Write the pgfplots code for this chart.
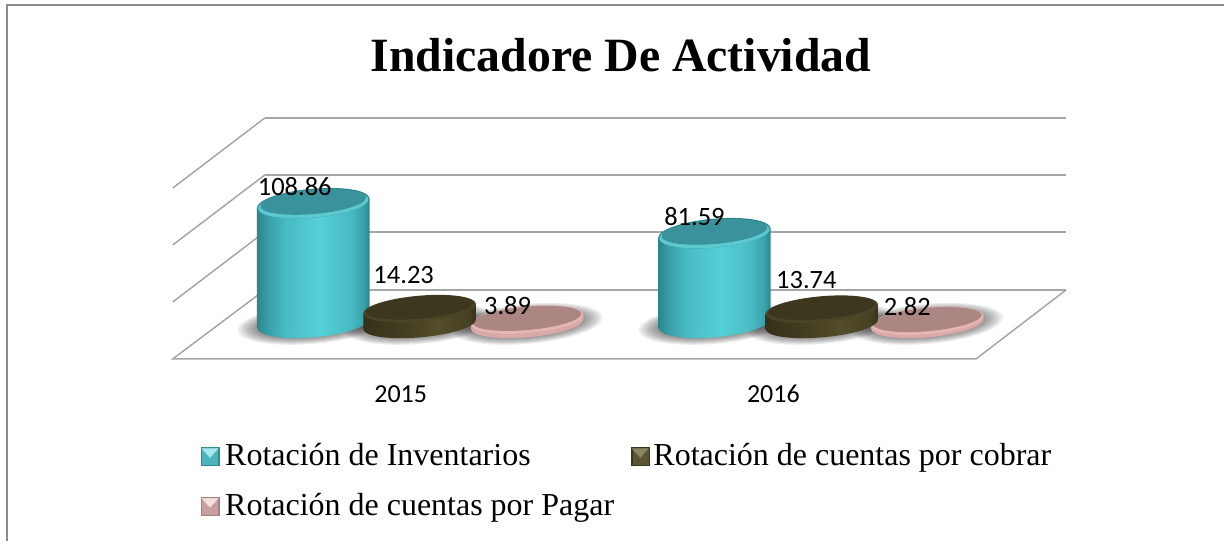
\documentclass[border=0pt]{standalone}
\usepackage{fontspec}
\setmainfont{Liberation Serif}
\newfontfamily\carlito{Carlito}
\usepackage{pgfplots}
\usepackage{pgfplotstable}
\pgfplotsset{compat=1.18}

\definecolor{gridc}{HTML}{A6A6A6}
\definecolor{framec}{HTML}{8C8C8C}
\definecolor{HTMLteal0}{HTML}{2B858D}
\definecolor{HTMLteal1}{HTML}{3AA3AC}
\definecolor{HTMLteal2}{HTML}{49BBC4}
\definecolor{HTMLteal3}{HTML}{55D0D8}
\definecolor{tealcap}{HTML}{3A929C}
\definecolor{tealrim}{HTML}{5CC9D1}
\definecolor{HTMLdark0}{HTML}{353019}
\definecolor{HTMLdark1}{HTML}{454022}
\definecolor{HTMLdark2}{HTML}{544D2A}
\definecolor{darkcap}{HTML}{3D3720}
\definecolor{darkrim}{HTML}{4A4526}
\definecolor{pinkrim}{HTML}{E6B6B6}
\definecolor{pinktopc}{HTML}{AC8682}
\definecolor{pinkmid}{HTML}{D9A8A8}
\definecolor{keytealM}{HTML}{4AB5BD}
\definecolor{keytealT}{HTML}{A8E8EC}
\definecolor{keytealE}{HTML}{2F8B93}
\definecolor{keydarkM}{HTML}{5A5534}
\definecolor{keydarkT}{HTML}{8A8660}
\definecolor{keydarkE}{HTML}{3A3620}
\definecolor{keypinkM}{HTML}{C99E9E}
\definecolor{keypinkT}{HTML}{F4E0E0}
\definecolor{keypinkE}{HTML}{A87F7F}

\pgfdeclarehorizontalshading{cylteal}{100bp}{color(0bp)=(HTMLteal0); color(25bp)=(HTMLteal0); color(31bp)=(HTMLteal1); color(38bp)=(HTMLteal2); color(53bp)=(HTMLteal3); color(66bp)=(HTMLteal2); color(72bp)=(HTMLteal1); color(75bp)=(HTMLteal0); color(100bp)=(HTMLteal0)}
\pgfdeclarehorizontalshading{cyldark}{100bp}{color(0bp)=(HTMLdark0); color(25bp)=(HTMLdark0); color(45bp)=(HTMLdark1); color(58bp)=(HTMLdark2); color(72bp)=(HTMLdark1); color(75bp)=(HTMLdark0); color(100bp)=(HTMLdark0)}
\pgfdeclarehorizontalshading{cylpink}{100bp}{color(0bp)=(pinkmid); color(100bp)=(pinkmid)}

% tilted ellipse, low level because pgfplots handles TikZ ellipse radii itself
\newcommand{\tiltpath}[3]{\pgfpathellipse{\pgfpoint{0pt}{#1}}{\pgfpointpolar{5}{#2}}{\pgfpointpolar{95}{#3}}}
\newcommand{\tiltfill}[4]{\begin{pgfscope}\pgfsetfillcolor{#1}\tiltpath{#2}{#3}{#4}\pgfusepath{fill}\end{pgfscope}}
\newlength{\cylh}
% whole cylinder, drawn down from the point at the value; \hgt is its height in pixels
\newcommand{\cylbody}[2]{%
  \pgfmathsetlength{\cylh}{\hgt}%
  \begin{pgfscope}\tiltpath{-\cylh}{56.5pt}{#2}\pgfshadepath{#1}{0}\pgfusepath{discard}\end{pgfscope}%
  \begin{pgfscope}%
    \pgfpathmoveto{\pgfpoint{-56.3pt}{\dimexpr-\cylh-4.6pt\relax}}%
    \pgfpathlineto{\pgfpoint{56.3pt}{\dimexpr-\cylh+4.6pt\relax}}%
    \pgfpathlineto{\pgfpoint{56.3pt}{4.6pt}}%
    \pgfpathlineto{\pgfpoint{-56.3pt}{-4.6pt}}%
    \pgfpathclose
    \pgfshadepath{#1}{0}\pgfusepath{discard}%
  \end{pgfscope}}

\pgfdeclareplotmark{shadowmark}{%
  \foreach \i in {0,1,...,7}{%
    \pgfmathsetlengthmacro{\sa}{76-2.9*\i}\pgfmathsetlengthmacro{\sb}{20-1*\i}%
    \begin{pgfscope}\pgfsetfillcolor{black}\pgfsetfillopacity{0.07}\tiltpath{-1pt}{\sa}{\sb}\pgfusepath{fill}\end{pgfscope}%
  }}
\pgfdeclareplotmark{tealcyl}{\cylbody{cylteal}{14.5pt}%
  \tiltfill{HTMLteal0}{0pt}{56.5pt}{14.5pt}%
  \tiltfill{tealrim}{-0.8pt}{55.5pt}{13.7pt}%
  \tiltfill{tealcap}{1.2pt}{53pt}{12pt}}
\pgfdeclareplotmark{darkcyl}{\pgftransformyshift{-1.5pt}\cylbody{cyldark}{13pt}%
  \tiltfill{darkrim}{0pt}{56.5pt}{13pt}%
  \tiltfill{darkcap}{1.2pt}{54pt}{11.2pt}}
\pgfdeclareplotmark{pinkcyl}{\pgftransformyshift{-1pt}\cylbody{cylpink}{13.5pt}%
  \tiltfill{pinkrim}{0pt}{56.5pt}{13.5pt}%
  \tiltfill{pinktopc}{1.2pt}{54.5pt}{11.7pt}}

\newcommand{\legkey}[3]{%
  \fill[#3] (0pt,-10pt) rectangle (18pt,8pt);
  \fill[#2] (1.5pt,-8.5pt) rectangle (16.5pt,6.5pt);
  \fill[#1] (1pt,7pt)--(17pt,7pt)--(9pt,-2pt)--cycle;}

\pgfplotstableread{
x v
313.5 108.86
715 81.59
}\tealdata
\pgfplotstableread{
x v
420 14.23
822.5 13.74
}\darkdata
\pgfplotstableread{
x v
527.5 3.89
928 2.82
}\pinkdata
\pgfplotstableread{
x v lab dx dy
313.5 108.86 108.86 -18.5 16.3
420 14.23 14.23 -16 32.3
527.5 3.89 3.89 -19.5 12.7
715 81.59 81.59 -20 16.2
822.5 13.74 13.74 -15.5 27.9
928 2.82 2.82 -20 12.9
}\labeldata

\pgfplotsset{cylplot/.style={forget plot,only marks,scatter,mark=#1,
  visualization depends on={1.1*\thisrow{v} \as \hgt}}}

\begin{document}
\begin{tikzpicture}
% walls, floor, frame and title, in picture pixels
\begin{axis}[
  at={(0pt,0pt)},anchor=south west,
  scale only axis,width=1225pt,height=541pt,
  xmin=0,xmax=1225,ymin=0,ymax=541,y dir=reverse,
  hide axis,clip=false]
\addplot[framec,line width=2pt] coordinates {(7,541) (7,5) (1225,5)};
\addplot[gridc,line width=1.5pt] coordinates {(265,290) (1067,290)};
\addplot[gridc,line width=1.5pt] coordinates {(265,232) (1067,232)};
\addplot[gridc,line width=1.5pt] coordinates {(265,175) (1067,175)};
\addplot[gridc,line width=1.5pt] coordinates {(265,118) (1067,118)};
\addplot[gridc,line width=1.5pt] coordinates {(173,302) (265,232)};
\addplot[gridc,line width=1.5pt] coordinates {(173,245) (265,175)};
\addplot[gridc,line width=1.5pt] coordinates {(173,188) (265,118)};
\addplot[gridc,line width=1.5pt] coordinates {(265,290) (173,359) (977,359) (1067,290)};
\node[anchor=base,inner sep=0pt,font=\fontsize{47.8}{50}\selectfont\bfseries] at (axis cs:621.5,71) {Indicadore De Actividad};
\end{axis}
% the values: 1.1 px per unit, base of the cylinders at pixel row 323
\begin{axis}[
  at={(0pt,0pt)},anchor=south west,
  scale only axis,width=1225pt,height=541pt,
  xmin=0,xmax=1225,ymin=-198.18,ymax=293.64,
  clip=false,
  axis line style={draw=none},
  major tick length=0pt,
  ytick=\empty,
  xtick={401,774},xticklabels={2015,2016},
  xticklabel style={font=\carlito\fontsize{26}{28}\selectfont,yshift=159pt},
  legend style={at={(201pt,99pt)},anchor=north west,draw=none,fill=none,
    font=\fontsize{32}{36}\selectfont,legend columns=2,
    inner sep=0pt,outer sep=0pt,
    /tikz/column 1/.style={column sep=4pt},
    /tikz/column 2/.style={column sep=15pt},
    /tikz/column 3/.style={column sep=2pt},
    row sep=22pt},
  legend cell align=left]
\addlegendimage{legend image code/.code={\legkey{keytealT}{keytealM}{keytealE}}}
\addlegendentry{Rotación de Inventarios}
\addlegendimage{legend image code/.code={\legkey{keydarkT}{keydarkM}{keydarkE}}}
\addlegendentry{Rotación de cuentas por cobrar}
\addlegendimage{legend image code/.code={\legkey{keypinkT}{keypinkM}{keypinkE}}}
\addlegendentry{Rotación de cuentas por Pagar}
% shadows
\addplot[forget plot,only marks,mark=shadowmark] table[x=x,y expr=0] {\tealdata};
\addplot[forget plot,only marks,mark=shadowmark] table[x=x,y expr=0] {\darkdata};
\addplot[forget plot,only marks,mark=shadowmark] table[x=x,y expr=0] {\pinkdata};
% cylinders, back to front
\addplot[cylplot=tealcyl] table[x=x,y=v] {\tealdata};
\addplot[cylplot=pinkcyl] table[x=x,y=v] {\pinkdata};
\addplot[cylplot=darkcyl] table[x=x,y=v] {\darkdata};
% value labels
\addplot[forget plot,draw=none,mark=none,
  point meta=explicit symbolic,
  visualization depends on={\thisrow{dx} \as \dxv},
  visualization depends on={\thisrow{dy} \as \dyv},
  nodes near coords,
  every node near coord/.append style={anchor=center,inner sep=0pt,
    font=\carlito\fontsize{26.5}{28}\selectfont,text=black,
    xshift=\dxv pt,yshift=\dyv pt}]
  table[x=x,y=v,meta=lab] {\labeldata};
\end{axis}
\end{tikzpicture}
\end{document}
